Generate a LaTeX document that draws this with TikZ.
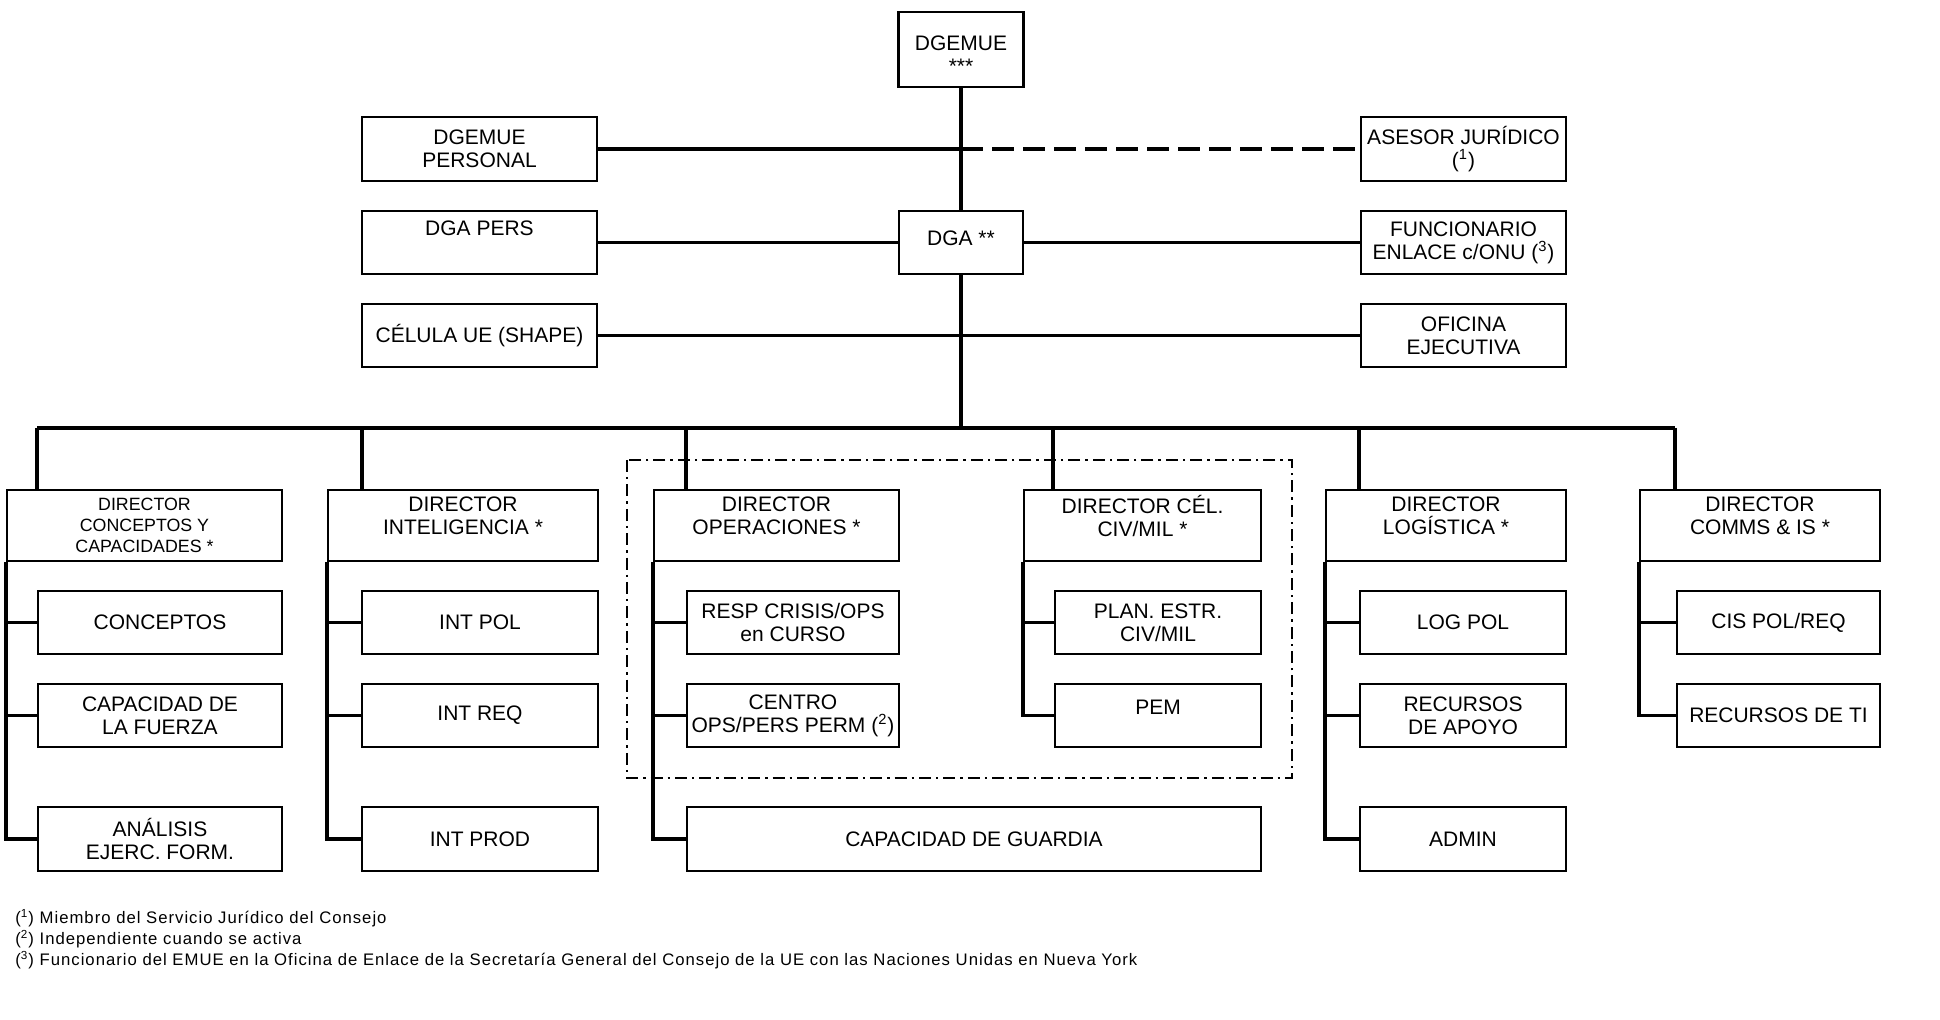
\documentclass[tikz,border=0pt]{standalone}
\usepackage{fontspec}
\setmainfont{Liberation Sans}
\newfontfamily\notefont[LetterSpace=6]{Liberation Sans}
\newcommand{\supnum}[1]{(\textsuperscript{#1})}
\begin{document}
\begin{tikzpicture}[x=0.5pt,y=-0.5pt,
  box/.style={draw, line width=1.1pt, inner sep=0pt, align=center,
    font=\fontsize{10.5}{11.5}\selectfont},
  wh/.style 2 args={minimum width=#1*0.5pt, minimum height=#2*0.5pt},
  dirbox/.style={box, wh={#1}{71}, text depth=9.5pt},
  conn/.style={line width=1.75pt},
  legal/.style={line width=1.75pt, dash pattern=on 11pt off 4.5pt},
  groupline/.style={line width=1pt, dash pattern=on 6pt off 2.5pt on 1.2pt off 2.5pt},
  note/.style={anchor=west, inner sep=0pt, font=\notefont\fontsize{8.35}{10}\selectfont}]
\useasboundingbox (0,0) rectangle (1940,1020);

% top section
\node[box, wh={125}{75}, text height=24pt] (dgemue) at (961,49.5) {DGEMUE\\***};
\node[box, wh={235}{64}] (pers) at (479.5,149) {DGEMUE\\PERSONAL};
\node[box, wh={205}{64}] (asesor) at (1463.5,149) {ASESOR JURÍDICO\\\supnum{1}};
\node[box, wh={235}{63}, text depth=14.5pt] (dgapers) at (479.5,242.5) {DGA PERS};
\node[box, wh={124}{63}, text depth=4pt] (dga) at (961,242.5) {DGA **};
\node[box, wh={205}{63}] (func) at (1463.5,242.5) {FUNCIONARIO\\ENLACE c/ONU \supnum{3}};
\node[box, wh={235}{63}] (celula) at (479.5,335.5) {CÉLULA UE (SHAPE)};
\node[box, wh={205}{63}] (oficina) at (1463.5,335.5) {OFICINA\\EJECUTIVA};

\coordinate (j1) at (961,149);
\draw[conn] (dgemue.south) -- (dga.north);
\draw[conn] (pers.east) -- (j1);
\draw[legal] (j1) -- (asesor.west);
\draw[conn] (dgapers.east) -- (dga.west);
\draw[conn] (dga.east) -- (func.west);
\draw[conn] (celula.east) -- (oficina.west);

% bus
\coordinate (busC) at (961,428);
\coordinate (t1) at (37,428);
\coordinate (t2) at (362,428);
\coordinate (t3) at (686,428);
\coordinate (t4) at (1053,428);
\coordinate (t5) at (1359,428);
\coordinate (t6) at (1675,428);
\draw[conn] (dga.south) -- (busC);
\draw[conn] (t1) -- (t6);

% group frame
\draw[groupline] (627,460) rectangle (1292,778);

% directors
\node[box, wh={275}{71}, font=\fontsize{8.9}{10.5}\selectfont] (d1) at (144.5,525.5) {DIRECTOR\\CONCEPTOS Y\\CAPACIDADES *};
\node[dirbox=270] (d2) at (463,525.5) {DIRECTOR\\INTELIGENCIA *};
\node[dirbox=245] (d3) at (776.5,525.5) {DIRECTOR\\OPERACIONES *};
\node[dirbox=237] (d4) at (1142.5,525.5) {DIRECTOR CÉL.\\CIV/MIL *};
\node[dirbox=240] (d5) at (1446,525.5) {DIRECTOR\\LOGÍSTICA *};
\node[dirbox=240] (d6) at (1760,525.5) {DIRECTOR\\COMMS \& IS *};

\foreach \t/\d in {t1/d1,t2/d2,t3/d3,t4/d4,t5/d5,t6/d6}
  \draw[conn] (\t) -- (\t |- \d.north);

% children
\node[box, wh={244}{63}] (c11) at (160,622.5) {CONCEPTOS};
\node[box, wh={244}{63}] (c12) at (160,715.5) {CAPACIDAD DE\\LA FUERZA};
\node[box, wh={244}{64}] (c13) at (160,839) {ANÁLISIS\\EJERC. FORM.};

\node[box, wh={236}{63}] (c21) at (480,622.5) {INT POL};
\node[box, wh={236}{63}] (c22) at (480,715.5) {INT REQ};
\node[box, wh={236}{64}] (c23) at (480,839) {INT PROD};

\node[box, wh={212}{63}] (c31) at (793,622.5) {RESP CRISIS/OPS\\en CURSO};
\node[box, wh={212}{63}] (c32) at (793,715.5) {CENTRO\\OPS/PERS PERM \supnum{2}};
\node[box, wh={574}{64}] (c33) at (974,839) {CAPACIDAD DE GUARDIA};

\node[box, wh={206}{63}] (c41) at (1158,622.5) {PLAN. ESTR.\\CIV/MIL};
\node[box, wh={206}{63}, text depth=8.5pt] (c42) at (1158,715.5) {PEM};

\node[box, wh={206}{63}] (c51) at (1463,622.5) {LOG POL};
\node[box, wh={206}{63}] (c52) at (1463,715.5) {RECURSOS\\DE APOYO};
\node[box, wh={206}{64}] (c53) at (1463,839) {ADMIN};

\node[box, wh={203}{63}] (c61) at (1778.5,622.5) {CIS POL/REQ};
\node[box, wh={203}{63}] (c62) at (1778.5,715.5) {RECURSOS DE TI};

% spines
\draw[conn] (d1.south west) |- (c13.west);
\draw[conn] (d1.south west |- c11.west) -- (c11.west);
\draw[conn] (d1.south west |- c12.west) -- (c12.west);

\draw[conn] (d2.south west) |- (c23.west);
\draw[conn] (d2.south west |- c21.west) -- (c21.west);
\draw[conn] (d2.south west |- c22.west) -- (c22.west);

\draw[conn] (d3.south west) |- (c33.west);
\draw[conn] (d3.south west |- c31.west) -- (c31.west);
\draw[conn] (d3.south west |- c32.west) -- (c32.west);

\draw[conn] (d4.south west) |- (c42.west);
\draw[conn] (d4.south west |- c41.west) -- (c41.west);

\draw[conn] (d5.south west) |- (c53.west);
\draw[conn] (d5.south west |- c51.west) -- (c51.west);
\draw[conn] (d5.south west |- c52.west) -- (c52.west);

\draw[conn] (d6.south west) |- (c62.west);
\draw[conn] (d6.south west |- c61.west) -- (c61.west);

% footnotes
\node[note] (n1) at (15,918) {\supnum{1} Miembro del Servicio Jurídico del Consejo};
\node[note] (n2) at (15,939) {\supnum{2} Independiente cuando se activa};
\node[note] (n3) at (15,960) {\supnum{3} Funcionario del EMUE en la Oficina de Enlace de la Secretaría General del Consejo de la UE con las Naciones Unidas en Nueva York};
\end{tikzpicture}
\end{document}
